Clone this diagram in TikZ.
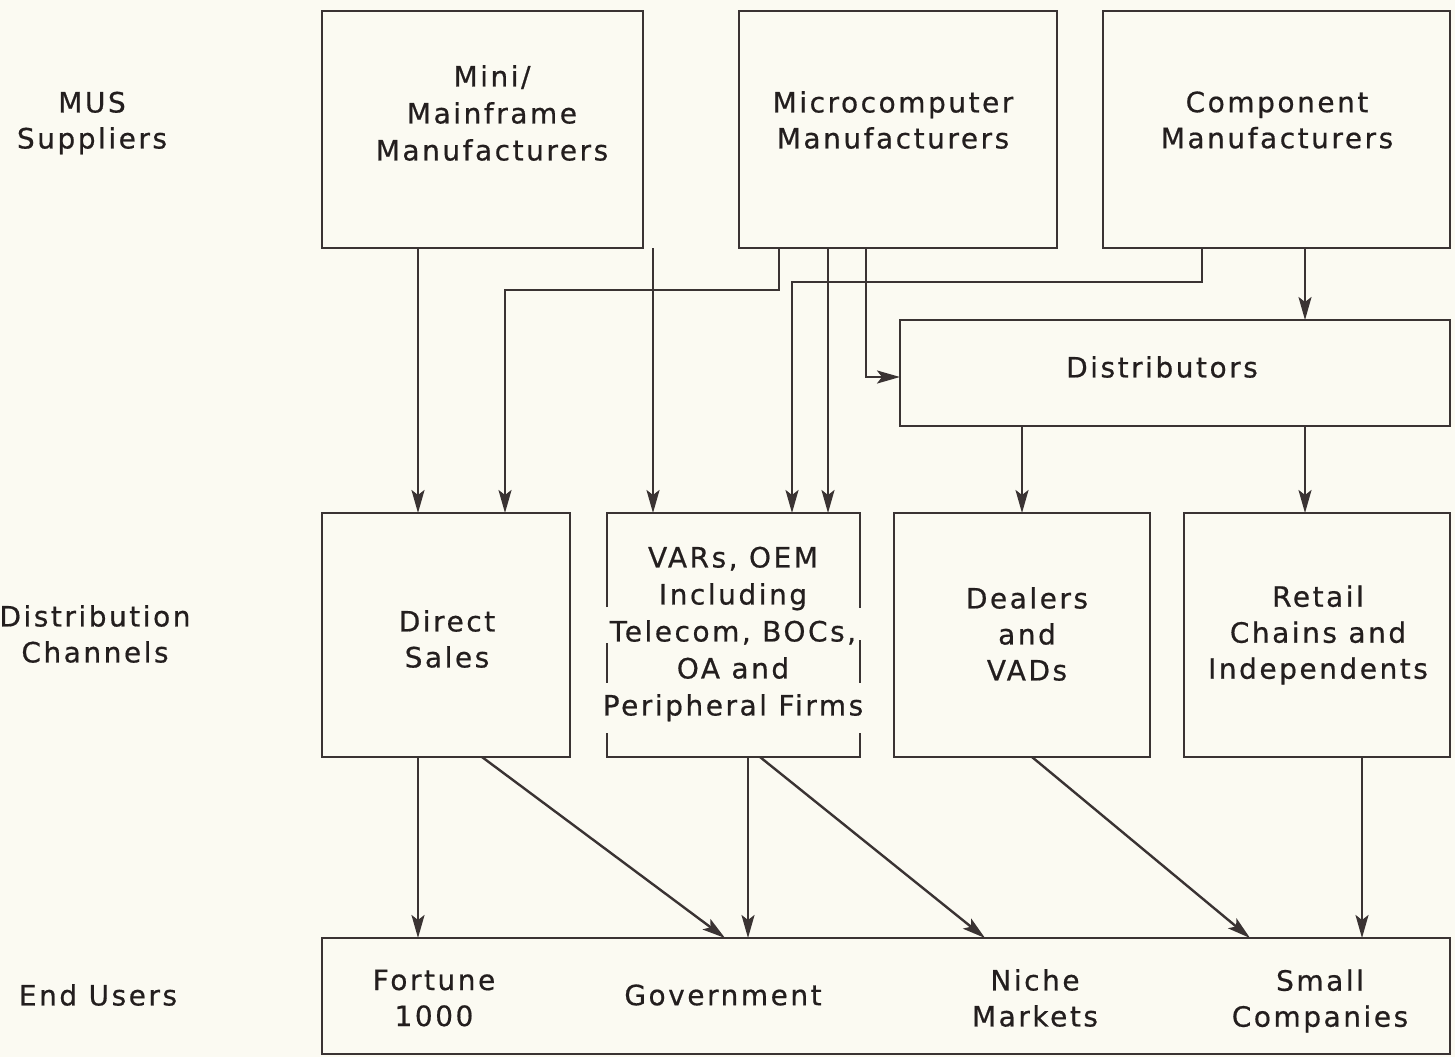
\documentclass[tikz,border=0pt]{standalone}
\usepackage{fontspec}
\usetikzlibrary{arrows.meta,calc}
\newfontfamily\lbl[LetterSpace=9,FakeBold=0.6]{DejaVu Sans}
\definecolor{paper}{HTML}{FBFAF2}
\definecolor{ink}{HTML}{3A3333}
\definecolor{txtc}{HTML}{231E1E}
\begin{document}
\begin{tikzpicture}[x=1pt,y=-1pt,
  box/.style={draw=ink,line width=2.6pt,inner sep=0pt,outer sep=0pt,rectangle},
  open/.style={inner sep=0pt,outer sep=0pt,rectangle},
  txt/.style={text=txtc,align=center,inner sep=0pt,font=\lbl\fontsize{28}{36}\selectfont},
  arr/.style={draw=ink,line width=2.4pt,-{Stealth[length=23pt,width=13pt,inset=5pt]}},
  seg/.style={draw=ink,line width=2.6pt}]
\useasboundingbox[fill=paper] (0,0) rectangle (1455,1057);

% row labels
\node[txt] (lmus) at (92,123) {MUS\\Suppliers};
\node[txt] (ldist) at (95,634) {Distribution\\Channels};
\node[txt] (lend) at (98,995) {End Users};

% suppliers
\node[box,minimum width=321pt,minimum height=237pt] (mini) at (482.5,129.5) {};
\node[txt,font=\lbl\fontsize{28}{37}\selectfont] (minit) at (492,113) {Mini/\\Mainframe\\Manufacturers};
\node[box,minimum width=318pt,minimum height=237pt] (micro) at (898,129.5) {};
\node[txt] (microt) at (893,120) {Microcomputer\\Manufacturers};
\node[box,minimum width=347pt,minimum height=237pt] (comp) at (1276.5,129.5) {};
\node[txt] (compt) at (1277,120) {Component\\Manufacturers};

% distributors
\node[box,minimum width=550pt,minimum height=106pt] (dist) at (1175,373) {};
\node[txt] (distt) at (1162,367) {Distributors};

% channels
\node[box,minimum width=248pt,minimum height=244pt] (direct) at (446,635) {};
\node[txt] (directt) at (447,639) {Direct\\Sales};
\node[open,minimum width=253pt,minimum height=244pt] (vars) at (733.5,635) {};
\node[txt,font=\lbl\fontsize{28}{37}\selectfont] (varst) at (733,634) {VARs, OEM\\Including\\Telecom, BOCs,\\OA and\\Peripheral Firms};
\node[box,minimum width=256pt,minimum height=244pt] (dealers) at (1022,635) {};
\node[txt] (dealerst) at (1027,634) {Dealers\\and\\VADs};
\node[box,minimum width=266pt,minimum height=244pt] (retail) at (1317,635) {};
\node[txt] (retailt) at (1318,635) {Retail\\Chains and\\Independents};

% border of the VARs box, broken where the text runs through it
\draw[seg] ($(vars.north west)+(0,94)$) -- (vars.north west) -- (vars.north east) -- ($(vars.north east)+(0,95)$);
\draw[seg] ($(vars.north west)+(0,130)$) -- ($(vars.north west)+(0,170)$);
\draw[seg] ($(vars.north east)+(0,127)$) -- ($(vars.north east)+(0,170)$);
\draw[seg] ($(vars.south west)+(0,-24)$) -- (vars.south west) -- (vars.south east) -- ($(vars.south east)+(0,-24)$);

% end users
\node[box,minimum width=1128pt,minimum height=116pt] (users) at (886,996) {};
\node[txt] (fortune) at (434,998) {Fortune\\1000};
\node[txt] (gov) at (723,995) {Government};
\node[txt] (niche) at (1035,998) {Niche\\Markets};
\node[txt] (small) at (1320,1001) {Small\\Companies};

% suppliers to channels
\draw[arr] ($(mini.south west)+(96,0)$) -- ($(direct.north west)+(96,0)$);
\draw[arr] ($(mini.south west)+(331,0)$) -- ($(vars.north west)+(46,0)$);
\draw[arr] ($(micro.south west)+(40,0)$) -- ++(0,42) -| ($(direct.north west)+(183,0)$);
\draw[arr] ($(micro.south west)+(89,0)$) -- ($(vars.north west)+(221,0)$);
\draw[arr] ($(micro.south west)+(127,0)$) |- ($(dist.west)+(0,4)$);
\draw[arr] ($(comp.south west)+(99,0)$) -- ++(0,34) -| ($(vars.north west)+(185,0)$);
\draw[arr] ($(comp.south west)+(202,0)$) -- ($(dist.north west)+(405,0)$);
\draw[arr] ($(dist.south west)+(122,0)$) -- ($(dealers.north west)+(128,0)$);
\draw[arr] ($(dist.south west)+(405,0)$) -- ($(retail.north west)+(121,0)$);

% channels to end users
\draw[arr] ($(direct.south west)+(96,0)$) -- ($(users.north west)+(96,0)$);
\draw[arr] ($(direct.south west)+(160,0)$) -- ($(users.north west)+(403,0)$);
\draw[arr] ($(vars.south west)+(141,0)$) -- ($(users.north west)+(426,0)$);
\draw[arr] ($(vars.south west)+(153,0)$) -- ($(users.north west)+(663,0)$);
\draw[arr] ($(dealers.south west)+(138,0)$) -- ($(users.north west)+(928,0)$);
\draw[arr] ($(retail.south west)+(178,0)$) -- ($(users.north west)+(1040,0)$);
\end{tikzpicture}
\end{document}
